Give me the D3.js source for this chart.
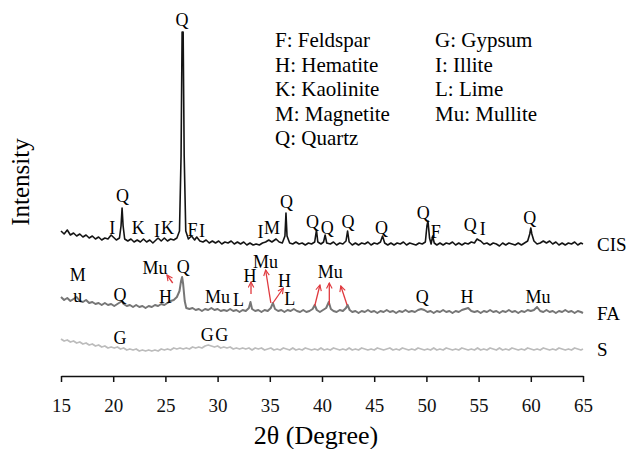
<!DOCTYPE html>
<html>
<head>
<meta charset="utf-8">
<script src="https://cdn.jsdelivr.net/npm/d3@7"></script>
<style>
  body { margin: 0; background: white; }
</style>
</head>
<body>
<script>
// XRD patterns: [2theta, intensity (a.u., stacked)]
var cisData = [
  [15.0,145],[15.3,142],[15.6,146],[15.9,141],[16.2,143],[16.5,140],[16.8,142],[17.1,139],[17.4,141],[17.7,138],
  [18.0,140],[18.3,137],[18.6,139],[18.9,136],[19.2,138],[19.5,137],[19.8,141],[20.0,139],[20.3,136],[20.6,138],
  [20.75,150],[20.85,168],[20.95,150],[21.1,137],[21.4,135],[21.7,137],[22.0,134],[22.3,136],[22.6,134],[22.9,137],
  [23.2,134],[23.5,136],[23.8,133],[24.1,136],[24.3,138],[24.6,135],[24.9,138],[25.2,135],[25.5,137],[25.8,136],
  [26.1,138],[26.35,145],[26.5,220],[26.6,344],[26.7,344],[26.8,220],[26.95,145],[27.2,137],[27.5,140],[27.8,136],
  [28.0,139],[28.3,135],[28.6,134],[28.9,136],[29.2,133],[29.5,135],[29.8,133],[30.1,135],[30.4,132],[30.7,134],
  [31.0,133],[31.3,135],[31.6,132],[31.9,134],[32.2,132],[32.5,134],[32.8,131],[33.1,133],[33.4,131],[33.7,132],
  [34.0,131],[34.3,133],[34.6,134],[34.9,136],[35.2,134],[35.6,137],[35.9,134],[36.2,133],[36.45,140],[36.55,163],
  [36.65,140],[36.9,133],[37.2,132],[37.5,134],[37.8,132],[38.1,133],[38.4,131],[38.7,133],[39.0,132],[39.3,134],
  [39.47,146],[39.6,134],[39.9,132],[40.15,134],[40.3,141],[40.45,133],[40.8,132],[41.1,134],[41.4,131],[41.7,133],
  [42.0,132],[42.3,135],[42.45,145],[42.6,134],[42.9,131],[43.2,133],[43.5,131],[43.8,133],[44.1,132],[44.4,134],
  [44.7,131],[45.0,133],[45.3,132],[45.6,134],[45.8,140],[46.0,133],[46.3,131],[46.6,133],[46.9,131],[47.2,133],
  [47.5,132],[47.8,134],[48.1,131],[48.4,133],[48.7,132],[49.0,131],[49.3,133],[49.6,132],[49.9,134],[50.05,150],
  [50.15,155],[50.3,138],[50.45,132],[50.6,140],[50.75,133],[51.0,131],[51.3,133],[51.6,131],[51.9,133],[52.2,132],
  [52.5,134],[52.8,131],[53.1,133],[53.4,131],[53.7,133],[54.0,132],[54.3,134],[54.6,133],[54.85,137],[55.0,136],
  [55.2,135],[55.5,132],[55.8,133],[56.1,131],[56.4,133],[56.7,132],[57.0,130],[57.3,133],[57.6,131],[57.9,133],
  [58.2,132],[58.5,131],[58.8,133],[59.1,131],[59.4,133],[59.7,135],[59.9,142],[60.0,148],[60.1,142],[60.3,135],
  [60.6,132],[60.9,133],[61.2,135],[61.5,133],[61.8,135],[62.1,132],[62.4,134],[62.7,131],[63.0,133],[63.3,131],
  [63.6,133],[63.9,132],[64.2,134],[64.5,131],[64.8,133],[65.0,132]
];
var faData = [
  [15.0,79],[15.3,76],[15.6,78],[15.9,75],[16.2,77],[16.5,79],[16.8,75],[17.1,74],[17.4,76],[17.7,73],
  [18.0,74],[18.3,72],[18.6,73],[18.9,71],[19.2,73],[19.5,71],[19.8,72],[20.1,70],[20.4,72],[20.7,74],
  [20.85,75],[21.0,72],[21.3,70],[21.6,71],[21.9,69],[22.2,71],[22.5,69],[22.8,70],[23.1,68],[23.4,70],
  [23.7,69],[24.0,71],[24.3,70],[24.6,72],[24.9,71],[25.2,73],[25.5,75],[25.8,76],[26.1,79],[26.35,85],
  [26.5,95],[26.6,99],[26.7,92],[26.85,75],[27.0,68],[27.3,67],[27.6,68],[27.9,66],[28.2,67],[28.5,65],
  [28.8,67],[29.1,66],[29.4,68],[29.7,66],[30.0,67],[30.3,65],[30.6,66],[30.9,65],[31.2,67],[31.5,65],
  [31.8,66],[32.1,64],[32.4,66],[32.7,65],[33.0,68],[33.15,74],[33.3,67],[33.6,65],[33.9,66],[34.2,64],
  [34.5,66],[34.8,65],[35.1,68],[35.3,73],[35.5,67],[35.8,65],[36.1,66],[36.4,64],[36.7,66],[37.0,65],
  [37.3,67],[37.6,65],[37.9,64],[38.2,66],[38.5,64],[38.8,65],[39.1,67],[39.3,71],[39.5,66],[39.8,64],
  [40.1,66],[40.4,68],[40.65,74],[40.85,67],[41.1,65],[41.4,64],[41.7,66],[42.0,65],[42.3,68],[42.45,71],
  [42.65,66],[42.9,64],[43.2,65],[43.5,63],[43.8,65],[44.1,64],[44.4,66],[44.7,64],[45.0,65],[45.3,63],
  [45.6,65],[45.9,64],[46.2,66],[46.5,64],[46.8,65],[47.1,63],[47.4,65],[47.7,64],[48.0,66],[48.3,64],
  [48.6,65],[48.9,64],[49.2,66],[49.5,67],[49.8,66],[50.1,64],[50.4,65],[50.7,63],[51.0,65],[51.3,64],
  [51.6,66],[51.9,64],[52.2,65],[52.5,63],[52.8,65],[53.1,64],[53.4,66],[53.7,67],[54.0,68],[54.3,65],
  [54.6,64],[54.9,65],[55.2,63],[55.5,65],[55.8,64],[56.1,66],[56.4,64],[56.7,65],[57.0,63],[57.3,65],
  [57.6,64],[57.9,66],[58.2,64],[58.5,65],[58.8,63],[59.1,65],[59.4,64],[59.7,66],[60.0,65],[60.3,66],
  [60.6,69],[60.9,65],[61.2,64],[61.5,66],[61.8,64],[62.1,65],[62.4,63],[62.7,65],[63.0,64],[63.3,66],
  [63.6,64],[63.9,65],[64.2,63],[64.5,65],[64.8,64],[65.0,63]
];
var sData = [
  [15.0,37],[15.3,35],[15.6,36],[15.9,34],[16.2,35],[16.5,33],[16.8,34],[17.1,32],[17.4,33],[17.7,31],
  [18.0,32],[18.3,30],[18.6,31],[18.9,29],[19.2,30],[19.5,28],[19.8,29],[20.1,28],[20.4,29],[20.7,27],
  [21.0,28],[21.3,26],[21.6,27],[21.9,26],[22.2,27],[22.5,25],[22.8,26],[23.1,25],[23.4,26],[23.7,25],
  [24.0,26],[24.3,25],[24.6,27],[24.9,26],[25.2,27],[25.5,26],[25.8,28],[26.1,27],[26.4,28],[26.7,27],
  [27.0,28],[27.3,27],[27.6,29],[27.9,28],[28.2,29],[28.5,28],[28.8,30],[29.1,31],[29.4,30],[29.7,29],
  [30.0,30],[30.3,28],[30.6,29],[30.9,28],[31.2,29],[31.5,27],[31.8,28],[32.1,27],[32.4,28],[32.7,27],
  [33.0,28],[33.3,26],[33.6,28],[33.9,27],[34.2,28],[34.5,26],[34.8,27],[35.1,28],[35.4,26],[35.7,27],
  [36.0,26],[36.3,28],[36.6,27],[36.9,26],[37.2,28],[37.5,26],[37.8,27],[38.1,26],[38.4,28],[38.7,27],
  [39.0,26],[39.3,27],[39.6,26],[39.9,28],[40.2,26],[40.5,27],[40.8,26],[41.1,28],[41.4,27],[41.7,26],
  [42.0,27],[42.3,26],[42.6,28],[42.9,26],[43.2,27],[43.5,26],[43.8,28],[44.1,27],[44.4,26],[44.7,27],
  [45.0,26],[45.3,28],[45.6,27],[45.9,26],[46.2,27],[46.5,28],[46.8,26],[47.1,27],[47.4,26],[47.7,28],
  [48.0,27],[48.3,26],[48.6,27],[48.9,26],[49.2,28],[49.5,27],[49.8,26],[50.1,27],[50.4,26],[50.7,28],
  [51.0,26],[51.3,27],[51.6,26],[51.9,28],[52.2,27],[52.5,26],[52.8,27],[53.1,26],[53.4,28],[53.7,27],
  [54.0,26],[54.3,27],[54.6,26],[54.9,28],[55.2,26],[55.5,27],[55.8,26],[56.1,28],[56.4,27],[56.7,26],
  [57.0,28],[57.3,26],[57.6,27],[57.9,26],[58.2,28],[58.5,27],[58.8,26],[59.1,27],[59.4,26],[59.7,28],
  [60.0,27],[60.3,26],[60.6,27],[60.9,26],[61.2,28],[61.5,27],[61.8,26],[62.1,27],[62.4,26],[62.7,28],
  [63.0,27],[63.3,26],[63.6,27],[63.9,26],[64.2,28],[64.5,27],[64.8,26],[65.0,27]
];

var seriesNames = ["CIS", "FA", "S"];

// phase labels: [text, 2theta, intensity]
var cisLabels = [
  ["I",19.9,148],["Q",20.9,180],["K",22.4,148],["I",24.2,145],["K",25.2,148],["Q",26.6,356],
  ["F",27.6,146],["I",28.5,145],["I",34.1,144],["M",35.2,148],["Q",36.6,174],["Q",39.1,154],
  ["Q",40.5,148],["Q",42.5,154],["Q",45.7,148],["Q",49.7,163],["F",50.9,144],["Q",54.2,151],
  ["I",55.4,147],["Q",59.9,158]
];
var faLabels = [
  ["M",16.6,101],["u",16.6,80],["Q",20.65,81],["Mu",24.0,108],["H",25.0,79],["Q",26.7,109],
  ["Mu",30.0,79],["L",32.0,76],["H",33.1,100],["Mu",34.6,114],["H",36.4,95],["L",36.9,77],
  ["Mu",40.8,104],["Q",49.6,79],["H",53.9,79],["Mu",60.7,79]
];
var sLabels = [["G",20.65,38],["G",29.0,41],["G",30.4,41]];

// red arrows on the FA pattern: [from 2theta, from int, to 2theta, to int]
var faArrows = [
  [25.7,93,25.15,101],[33.2,82,33.2,94],[35.1,73,34.6,106],[35.3,73,36.3,88],
  [39.3,70,39.8,91],[40.7,71,40.7,93],[42.4,71,41.8,90]
];

var legendItems = [
  "F: Feldspar", "H: Hematite", "K: Kaolinite", "M: Magnetite", "Q: Quartz",
  "G: Gypsum", "I: Illite", "L: Lime", "Mu: Mullite"
];

var xTicks = [15, 20, 25, 30, 35, 40, 45, 50, 55, 60, 65];

var width = 628, height = 449;
var serif = "'Liberation Serif', 'Times New Roman', 'DejaVu Serif', serif";

var svg = d3.select("body").append("svg")
  .attr("width", width)
  .attr("height", height)
  .style("background", "white");

var xScale = d3.scaleLinear().domain([15, 65]).range([61, 583]);
var yScale = d3.scaleLinear().domain([0, 360]).range([376, 16]);

var line = d3.line()
  .x(function(d) { return xScale(d[0]); })
  .y(function(d) { return yScale(d[1]); });

var allData = [cisData, faData, sData];
var colours = ["#141414", "#767676", "#bcbcbc"];
var widths = [1.6, 2, 1.8];

// draw the three patterns
allData.forEach(function(data, i) {
  svg.append("path")
    .datum(data)
    .attr("fill", "none")
    .attr("stroke", colours[i])
    .attr("stroke-width", widths[i])
    .attr("stroke-linejoin", "round")
    .attr("d", line);

  // series name at the end of each trace
  var last = data[data.length - 1];
  svg.append("text")
    .attr("x", xScale(last[0]) + 14)
    .attr("y", yScale(last[1]))
    .attr("dominant-baseline", "central")
    .style("font-family", serif)
    .style("font-size", "19px")
    .text(seriesNames[i]);
});

// red arrows
svg.append("defs").append("marker")
  .attr("id", "head")
  .attr("viewBox", "0 0 10 10")
  .attr("refX", 9).attr("refY", 5)
  .attr("markerWidth", 7).attr("markerHeight", 7)
  .attr("markerUnits", "userSpaceOnUse")
  .attr("orient", "auto")
  .append("path")
  .attr("d", "M1,1 L9,5 L1,9")
  .attr("fill", "none")
  .attr("stroke", "#e0393e")
  .attr("stroke-width", 1.6);

svg.selectAll(".arrow")
  .data(faArrows)
  .enter()
  .append("line")
  .attr("class", "arrow")
  .attr("x1", function(d) { return xScale(d[0]); })
  .attr("y1", function(d) { return yScale(d[1]); })
  .attr("x2", function(d) { return xScale(d[2]); })
  .attr("y2", function(d) { return yScale(d[3]); })
  .attr("stroke", "#e0393e")
  .attr("stroke-width", 1.3)
  .attr("marker-end", "url(#head)");

// phase letters
var labels = cisLabels.concat(faLabels, sLabels);
svg.selectAll(".phase")
  .data(labels)
  .enter()
  .append("text")
  .attr("class", "phase")
  .attr("x", function(d) { return xScale(d[1]); })
  .attr("y", function(d) { return yScale(d[2]); })
  .attr("text-anchor", "middle")
  .attr("dominant-baseline", "central")
  .style("font-family", serif)
  .style("font-size", "18px")
  .text(function(d) { return d[0]; });

// legend, two columns
svg.selectAll(".legend")
  .data(legendItems)
  .enter()
  .append("text")
  .attr("class", "legend")
  .attr("x", function(d, i) { return i < 5 ? 275 : 435; })
  .attr("y", function(d, i) { return 47 + (i % 5) * 24.5; })
  .style("font-family", serif)
  .style("font-size", "21px")
  .text(function(d) { return d; });

// x axis
var xAxis = d3.axisBottom(xScale)
  .tickValues(xTicks)
  .tickSize(6)
  .tickSizeOuter(0)
  .tickPadding(17);

var gx = svg.append("g")
  .attr("transform", "translate(0," + yScale(0) + ")")
  .call(xAxis);
gx.select(".domain").attr("stroke", "#111").attr("stroke-width", 1.5);
gx.selectAll(".tick line").attr("stroke", "#111").attr("stroke-width", 1.5);
gx.selectAll(".tick text")
  .style("font-family", serif)
  .style("font-size", "19px")
  .attr("fill", "#111");

svg.append("text")
  .attr("x", 316)
  .attr("y", 444)
  .attr("text-anchor", "middle")
  .style("font-family", serif)
  .style("font-size", "26px")
  .text("2\u03b8 (Degree)");

svg.append("text")
  .attr("transform", "translate(29,182) rotate(-90)")
  .attr("text-anchor", "middle")
  .style("font-family", serif)
  .style("font-size", "25px")
  .text("Intensity");
</script>
</body>
</html>
